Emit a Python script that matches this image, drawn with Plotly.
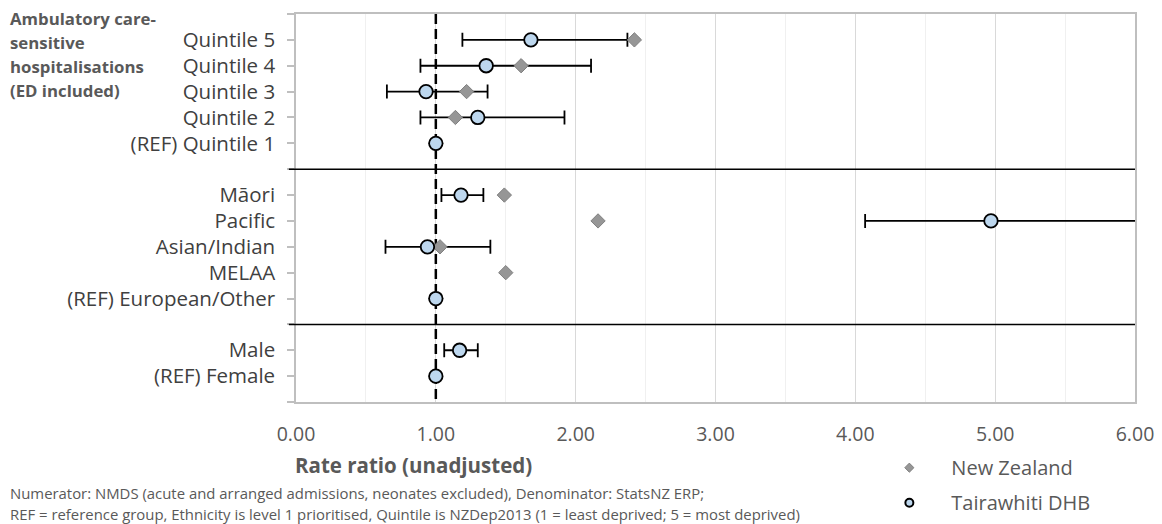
import plotly.graph_objects as go

# ---------------- data ----------------
categories = ["Quintile 5", "Quintile 4", "Quintile 3", "Quintile 2", "(REF) Quintile 1",
              "Māori", "Pacific", "Asian/Indian", "MELAA", "(REF) European/Other",
              "Male", "(REF) Female"]
row_pos = [1, 2, 3, 4, 5, 7, 8, 9, 10, 11, 13, 14]
separator_pos = [6, 12]
reference_value = 1.0

dhb_rate = [1.68, 1.36, 0.93, 1.30, 1.00, 1.18, 4.97, 0.94, None, 1.00, 1.17, 1.00]
dhb_lower = [1.19, 0.89, 0.65, 0.89, None, 1.04, 4.07, 0.64, None, None, 1.06, None]
dhb_upper = [2.37, 2.11, 1.37, 1.92, None, 1.34, 6.60, 1.39, None, None, 1.30, None]

nz_rate = [2.42, 1.61, 1.22, 1.14, 1.00, 1.49, 2.16, 1.03, 1.50, 1.00, 1.17, 1.00]

x_ticks = [0, 1, 2, 3, 4, 5, 6]
x_tick_labels = ["0.00", "1.00", "2.00", "3.00", "4.00", "5.00", "6.00"]

group_label = ["Ambulatory care-", "sensitive", "hospitalisations", "(ED included)"]
footnotes = ["Numerator: NMDS (acute and arranged admissions, neonates excluded), Denominator: StatsNZ ERP;",
             "REF = reference group, Ethnicity is level 1 prioritised, Quintile is NZDep2013 (1 = least deprived; 5 = most deprived)"]

# ---------------- figure ----------------
FONT = "Open Sans"
GRAY_TXT = "#595959"

err_plus = [(u - r) if (u is not None and r is not None) else 0 for u, r in zip(dhb_upper, dhb_rate)]
err_minus = [(r - l) if (l is not None and r is not None) else 0 for l, r in zip(dhb_lower, dhb_rate)]
has_err = [u is not None for u in dhb_upper]

fig = go.Figure()

# dashed reference line at rate ratio = 1
fig.add_trace(go.Scatter(
    x=[reference_value, reference_value], y=[0, 15], mode="lines",
    line=dict(color="black", width=2.5, dash="10px,5px"),
    showlegend=False, hoverinfo="skip"))

# error bars (DHB) only
fig.add_trace(go.Scatter(
    x=[r if h else None for r, h in zip(dhb_rate, has_err)], y=row_pos, mode="markers",
    marker=dict(size=1, color="rgba(0,0,0,0)"),
    error_x=dict(type="data", symmetric=False, array=err_plus, arrayminus=err_minus,
                 color="black", thickness=1.8, width=7),
    showlegend=False, hoverinfo="skip"))

# New Zealand diamonds
fig.add_trace(go.Scatter(
    x=nz_rate, y=row_pos, mode="markers", name="New Zealand",
    marker=dict(symbol="diamond", size=11, color="#969696", line=dict(color="#7f7f7f", width=1)),
    showlegend=False))

# DHB circles
fig.add_trace(go.Scatter(
    x=dhb_rate, y=row_pos, mode="markers", name="Tairawhiti DHB",
    marker=dict(symbol="circle", size=13.5, color="#BDD7EE", line=dict(color="black", width=1.8)),
    showlegend=False))

# legend-only traces
fig.add_trace(go.Scatter(x=[None], y=[None], mode="markers", name="New Zealand",
                         legendgroup="a",
                         marker=dict(symbol="diamond", size=7, color="#969696",
                                     line=dict(color="#7f7f7f", width=1))))
fig.add_trace(go.Scatter(x=[None], y=[None], mode="markers", name="Tairawhiti DHB",
                         legendgroup="b",
                         marker=dict(symbol="circle", size=8, color="#BDD7EE",
                                     line=dict(color="black", width=2))))

y_tickvals = list(range(0, 16))
y_ticktext = [""] * 16
for c, p in zip(categories, row_pos):
    y_ticktext[p] = c

shapes = []
for s in separator_pos:
    shapes.append(dict(type="line", xref="paper", yref="y", x0=-0.0085, x1=1, y0=s, y1=s,
                       line=dict(color="black", width=1.5), layer="above"))

annotations = []
group_y = [0.16, 1.12, 2.02, 2.94]
for t, gy in zip(group_label, group_y):
    annotations.append(dict(text="<b>" + t + "</b>", xref="paper", yref="y", x=-0.3433, y=gy,
                            xanchor="left", yanchor="middle", showarrow=False,
                            font=dict(family=FONT, size=16.8, color=GRAY_TXT)))
annotations.append(dict(text="<b>Rate ratio (unadjusted)</b>", xref="paper", yref="paper",
                        x=0.1395, y=-0.162, xanchor="center", yanchor="middle", showarrow=False,
                        font=dict(family=FONT, size=20.5, color=GRAY_TXT)))
for t, fy in zip(footnotes, [-0.2345, -0.2887]):
    annotations.append(dict(text=t, xref="paper", yref="paper", x=-0.3433, y=fy,
                            xanchor="left", yanchor="middle", showarrow=False,
                            font=dict(family=FONT, size=14.9, color=GRAY_TXT)))

fig.update_layout(
    width=1162, height=524,
    margin=dict(l=296, r=27, t=14, b=122, autoexpand=False),
    paper_bgcolor="white", plot_bgcolor="white",
    font=dict(family=FONT, color=GRAY_TXT),
    xaxis=dict(range=[0, 6], tickvals=x_ticks, ticktext=x_tick_labels, automargin=False,
               showgrid=True, gridcolor="#d9d9d9", gridwidth=1,
               minor=dict(dtick=0.5, tick0=0, showgrid=True, gridcolor="#f0f0f0", gridwidth=1),
               showline=True, linecolor="#bfbfbf", linewidth=1.5, mirror=True,
               ticks="", zeroline=False, ticklabelstandoff=14,
               tickfont=dict(family=FONT, size=19.5, color=GRAY_TXT)),
    yaxis=dict(range=[15, 0], tickvals=y_tickvals, ticktext=y_ticktext, automargin=False,
               showgrid=False, zeroline=False,
               showline=True, linecolor="#bfbfbf", linewidth=1.5, mirror=True,
               ticks="outside", ticklen=7, tickcolor="#bfbfbf", tickwidth=1.5,
               ticklabelstandoff=8,
               tickfont=dict(family=FONT, size=20.5, color="#404040")),
    shapes=shapes, annotations=annotations,
    legend=dict(x=0.681, y=-0.119, xanchor="left", yanchor="top",
                font=dict(family=FONT, size=20, color=GRAY_TXT), itemwidth=74,
                tracegroupgap=6, traceorder="grouped", bgcolor="rgba(0,0,0,0)"),
    showlegend=True,
)

fig.write_html("out.html", config={"displayModeBar": False},
               post_script="document.body.style.margin='0';")
